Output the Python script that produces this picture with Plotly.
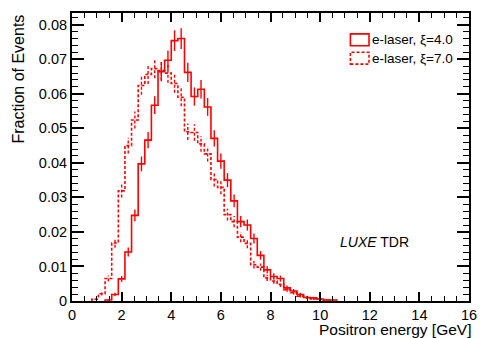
import numpy as np
import plotly.graph_objects as go

# Histogram binning: 60 bins over 0-16 GeV
n_bins = 60
x_min, x_max = 0.0, 16.0
first_bin_xi4 = 5
frac_xi4 = [0.0003, 0.0019, 0.0064, 0.0142, 0.0248, 0.0397, 0.0466, 0.0567, 0.0664, 0.0697,
            0.0754, 0.0760, 0.0662, 0.0592, 0.0613, 0.0562, 0.0471, 0.0405, 0.0350, 0.0290,
            0.0230, 0.0220, 0.0181, 0.0132, 0.0090, 0.0071, 0.0065, 0.0038, 0.0029, 0.0019,
            0.0010, 0.0009, 0.0006, 0.0003, 0.0003]
first_bin_xi7 = 3
frac_xi7 = [0.0005, 0.0021, 0.0065, 0.0168, 0.0319, 0.0450, 0.0524, 0.0624, 0.0656, 0.0673,
            0.0667, 0.0660, 0.0630, 0.0590, 0.0490, 0.0488, 0.0455, 0.0426, 0.0352, 0.0329,
            0.0250, 0.0230, 0.0185, 0.0167, 0.0105, 0.0098, 0.0067, 0.0058, 0.0048, 0.0033,
            0.0024, 0.0014, 0.0010, 0.0006, 0.0005, 0.0002]
n_events = 8500  # used for statistical error bars

labels = ["e-laser, \u03be=4.0", "e-laser, \u03be=7.0"]
x_ticks = list(range(0, 17, 2))
y_ticks = [0, 0.01, 0.02, 0.03, 0.04, 0.05, 0.06, 0.07, 0.08]

RED = "#ff0000"
FONT = "Liberation Sans"
bw = (x_max - x_min) / n_bins

fig = go.Figure()


def add_hist(first_bin, vals, dash):
    vals = np.array(vals)
    lo = x_min + bw * (first_bin + np.arange(len(vals)))
    xs = np.concatenate([[lo[0]], lo, [lo[-1] + bw], [lo[-1] + bw]])
    ys = np.concatenate([[0.0], vals, [vals[-1]], [0.0]])
    fig.add_trace(go.Scatter(x=xs, y=ys, mode="lines", line=dict(color=RED, width=1.6, dash=dash, shape="hv"),
                             showlegend=False, hoverinfo="skip"))
    # error bars
    err = np.sqrt(vals / n_events)
    cx = lo + bw / 2
    ex, ey = [], []
    for c, v, e in zip(cx, vals, err):
        ex += [c, c, None]
        ey += [v - e, v + e, None]
    fig.add_trace(go.Scatter(x=ex, y=ey, mode="lines", line=dict(color=RED, width=1.4, dash=dash),
                             showlegend=False, hoverinfo="skip"))


add_hist(first_bin_xi4, frac_xi4, "solid")
add_hist(first_bin_xi7, frac_xi7, "3px,2px")

axis_common = dict(showline=True, linecolor="black", linewidth=2, mirror="allticks", ticks="inside",
                   tickcolor="black", tickwidth=1.5, showgrid=False, zeroline=False,
                   tickfont=dict(family=FONT, size=14.5, color="black"))

fig.update_xaxes(range=[x_min, x_max], tickvals=x_ticks, ticktext=[str(v) for v in x_ticks], ticklen=9,
                 minor=dict(dtick=0.5, ticks="inside", ticklen=5, tickcolor="black", tickwidth=1.2),
                 **axis_common)
fig.update_yaxes(range=[0, 0.0834], tickvals=y_ticks, ticktext=["0"] + [f"{v:.2f}" for v in y_ticks[1:]],
                 ticklen=12,
                 minor=dict(dtick=0.002, ticks="inside", ticklen=6, tickcolor="black", tickwidth=1.2),
                 **axis_common)

W, H = 488, 338
ml, mr, mt, mb = 72, 11, 11, 37
pw, ph = W - ml - mr, H - mt - mb


def px(xp):
    return (xp - ml) / pw


def py(yp):
    return (H - mb - yp) / ph


# legend boxes
for i, (lab, dash) in enumerate(zip(labels, ["solid", "3px,2px"])):
    y0 = 32 + i * 18.5
    fig.add_shape(type="rect", xref="paper", yref="paper", x0=px(356), x1=px(375), y0=py(y0 + 12), y1=py(y0),
                  line=dict(color=RED, width=1.6, dash=dash), fillcolor="rgba(0,0,0,0)")
    fig.add_annotation(xref="paper", yref="paper", x=px(376), y=py(y0 + 6), text=lab, showarrow=False,
                       xanchor="left", yanchor="middle", font=dict(family=FONT, size=13.5, color="black"))

fig.add_annotation(xref="paper", yref="paper", x=px(381), y=py(242), text="<i>LUXE</i> TDR", showarrow=False,
                   xanchor="center", yanchor="middle", font=dict(family=FONT, size=14, color="black"))
fig.add_annotation(xref="paper", yref="paper", x=px(482), y=py(330), text="Positron energy [GeV]",
                   showarrow=False, xanchor="right", yanchor="middle",
                   font=dict(family=FONT, size=15.5, color="black"))
fig.add_annotation(xref="paper", yref="paper", x=px(17), y=1.0, text="Fraction of Events", showarrow=False,
                   textangle=-90, xanchor="center", yanchor="top", font=dict(family=FONT, size=16, color="black"))

fig.update_layout(width=W, height=H, margin=dict(l=ml, r=mr, t=mt, b=mb), plot_bgcolor="white",
                  paper_bgcolor="white", showlegend=False)

fig.write_html("out.html")
